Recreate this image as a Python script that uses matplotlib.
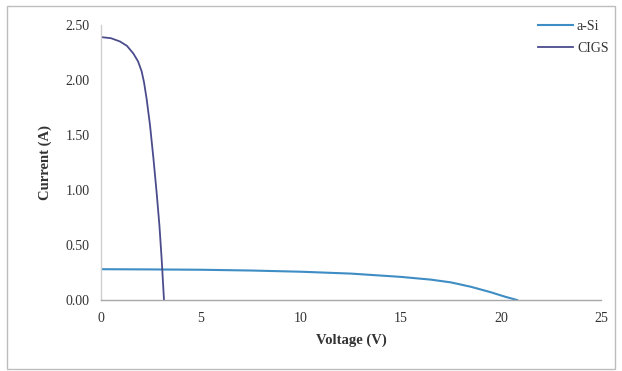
import matplotlib
matplotlib.use("Agg")
import matplotlib.pyplot as plt
from matplotlib.patches import Rectangle

# Data
asi_v = [0, 2.5, 5, 7.5, 10, 12.5, 15, 16.5, 17.5, 18.5, 19.5, 20.2, 20.8]
asi_i = [0.280, 0.278, 0.275, 0.268, 0.257, 0.240, 0.210, 0.185, 0.160, 0.120, 0.070, 0.030, 0.0]

cigs_v = [0, 0.5, 0.95, 1.3, 1.62, 1.85, 2.03, 2.15, 2.28, 2.45, 2.62, 2.78, 2.92, 3.03, 3.15]
cigs_i = [2.39, 2.38, 2.35, 2.31, 2.24, 2.17, 2.08, 1.98, 1.83, 1.59, 1.29, 0.98, 0.68, 0.38, 0.0]

x_ticks = [0, 5, 10, 15, 20, 25]
y_ticks = [0.0, 0.5, 1.0, 1.5, 2.0, 2.5]

plt.rcParams['font.family'] = ['Liberation Serif', 'DejaVu Serif']

fig = plt.figure(figsize=(6.22, 3.71), dpi=100)
fig.patches.append(Rectangle((7/622, 2/371), 608/622, 363/371, transform=fig.transFigure,
                             fill=False, edgecolor='#bdbdbd', linewidth=1.0))
ax = fig.add_axes([101/622, 71/371, 500/622, 275/371])

ax.plot(asi_v, asi_i, color='#3E8DC4', linewidth=1.5, label='a-Si')
ax.plot(cigs_v, cigs_i, color='#4B4C8C', linewidth=1.3, label='CIGS')

ax.set_xlim(0, 25)
ax.set_ylim(0, 2.5)
ax.set_xticks(x_ticks)
ax.set_yticks(y_ticks)
ax.set_yticklabels([f"{v:.2f}" for v in y_ticks])
ax.tick_params(length=0, labelsize=10, colors='#333333', pad=8)
ax.tick_params(axis='x', pad=9)
for s in ['top', 'right']:
    ax.spines[s].set_visible(False)
ax.spines['left'].set_color('#d0d0d0')
ax.spines['bottom'].set_color('#a8a8a8')
ax.spines['left'].set_linewidth(1.0)
ax.spines['bottom'].set_linewidth(1.0)

ax.set_xlabel('Voltage (V)', fontsize=10.5, fontweight='bold', color='#333333', labelpad=6)
ax.set_ylabel('Current (A)', fontsize=10.5, fontweight='bold', color='#333333', labelpad=10)

leg = ax.legend(loc='upper right', bbox_to_anchor=(1.04, 1.065), frameon=False, fontsize=10,
                handlelength=2.5, handletextpad=0.3, labelspacing=0.65)
for t in leg.get_texts():
    t.set_color('#333333')

fig.savefig('out.png', dpi=100)
